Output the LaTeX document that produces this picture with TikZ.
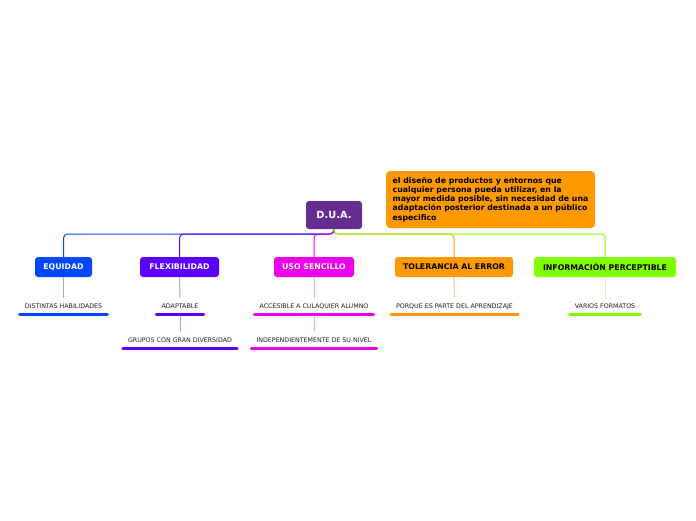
\documentclass[tikz,border=0pt]{standalone}
\usepackage{fontspec}
\setmainfont{DejaVu Sans}
\usetikzlibrary{calc}
\definecolor{cpurple}{HTML}{662D91}
\definecolor{cblue}{HTML}{0047FF}
\definecolor{cviolet}{HTML}{5A00FF}
\definecolor{cmag}{HTML}{EE00EE}
\definecolor{corange}{HTML}{FF9900}
\definecolor{cgreen}{HTML}{80FF00}
\definecolor{lblue}{HTML}{8FAEFF}
\definecolor{lviolet}{HTML}{B99EFF}
\definecolor{lmag}{HTML}{FF9CFF}
\definecolor{lorange}{HTML}{FFCC80}
\definecolor{lgreen}{HTML}{CCFF99}
\definecolor{ctext}{HTML}{222222}
\tikzset{
  hdr/.style={rounded corners=3pt, minimum height=20pt, inner sep=0pt,
    font=\fontsize{7.8}{9}\selectfont\bfseries},
  sub/.style={inner xsep=5pt, inner ysep=5pt, text height=5pt, text depth=1pt,
    font=\fontsize{6.3}{7}\selectfont, text=ctext},
  uline/.style={line width=3pt, line cap=round},
  conn/.style={line width=1pt, rounded corners=4pt},
  thin/.style={line width=1pt}
}
\begin{document}
\begin{tikzpicture}[x=1pt,y=-1pt]
\useasboundingbox[fill=white] (0,0) rectangle (696,520);
% central
\node[hdr, fill=cpurple, text=white, minimum width=56pt, minimum height=28pt,
  font=\fontsize{9.8}{11}\selectfont\bfseries] (dua) at (334,215) {D.U.A.};
\node[rounded corners=4pt, fill=corange, minimum width=209pt, minimum height=57pt,
  inner sep=0pt, align=left, font=\fontsize{7.8}{9.25}\selectfont\bfseries]
  (note) at (490.5,199.5) {el diseño de productos y entornos que\\cualquier persona pueda utilizar, en la\\mayor medida posible, sin necesidad de una\\adaptación posterior destinada a un público\\especifico};
\coordinate (bus) at (334,234);
% headers
\node[hdr, fill=cblue, text=white, minimum width=57pt] (equ) at (63.5,267) {EQUIDAD};
\node[hdr, fill=cviolet, text=white, minimum width=79pt] (flex) at (179.5,267) {FLEXIBILIDAD};
\node[hdr, fill=cmag, text=white, minimum width=80pt] (uso) at (314,267) {USO SENCILLO};
\node[hdr, fill=corange, text=black, minimum width=118pt] (tol) at (454,267) {TOLERANCIA AL ERROR};
\node[hdr, fill=cgreen, text=black, minimum width=142pt] (inf) at (605,267) {INFORMACIÓN PERCEPTIBLE};
% connectors
\draw[conn, cblue] (dua.south) -- (bus) -| (equ.north);
\draw[conn, cviolet] (dua.south) -- (bus) -| (flex.north);
\draw[conn, cmag] (dua.south) -- (bus) -| (uso.north);
\draw[conn, corange] (dua.south) -- (bus) -| (tol.north);
\draw[conn, cgreen] (dua.south) -- (bus) -| (inf.north);
% sub items
\node[sub] (s1) at (63.5,306) {DISTINTAS HABILIDADES};
\node[sub] (s2) at (180,306) {ADAPTABLE};
\node[sub] (s3) at (180,340) {GRUPOS CON GRAN DIVERSIDAD};
\node[sub] (s4) at (314,306) {ACCESIBLE A CULAQUIER ALUMNO};
\node[sub] (s5) at (314,340) {INDEPENDIENTEMENTE DE SU NIVEL};
\node[sub] (s6) at (454.5,306) {PORQUE ES PARTE DEL APRENDIZAJE};
\node[sub] (s7) at (605,306) {VARIOS FORMATOS};
% vertical light lines
\draw[thin, lblue] (equ.south) -- (s1.north);
\draw[thin, lviolet] (flex.south) -- (s2.north);
\draw[thin, lviolet] (s2.south) -- (s3.north);
\draw[thin, lmag] (uso.south) -- (s4.north);
\draw[thin, lmag] (s4.south) -- (s5.north);
\draw[thin, lorange] (tol.south) -- (s6.north);
\draw[thin, lgreen] (inf.south) -- (s7.north);
% underlines
\draw[uline, cblue] (s1.south west) -- (s1.south east);
\draw[uline, cviolet] (s2.south west) -- (s2.south east);
\draw[uline, cviolet] (s3.south west) -- (s3.south east);
\draw[uline, cmag] (s4.south west) -- (s4.south east);
\draw[uline, cmag] (s5.south west) -- (s5.south east);
\draw[uline, corange] (s6.south west) -- (s6.south east);
\draw[uline, cgreen] (s7.south west) -- (s7.south east);
\end{tikzpicture}
\end{document}
